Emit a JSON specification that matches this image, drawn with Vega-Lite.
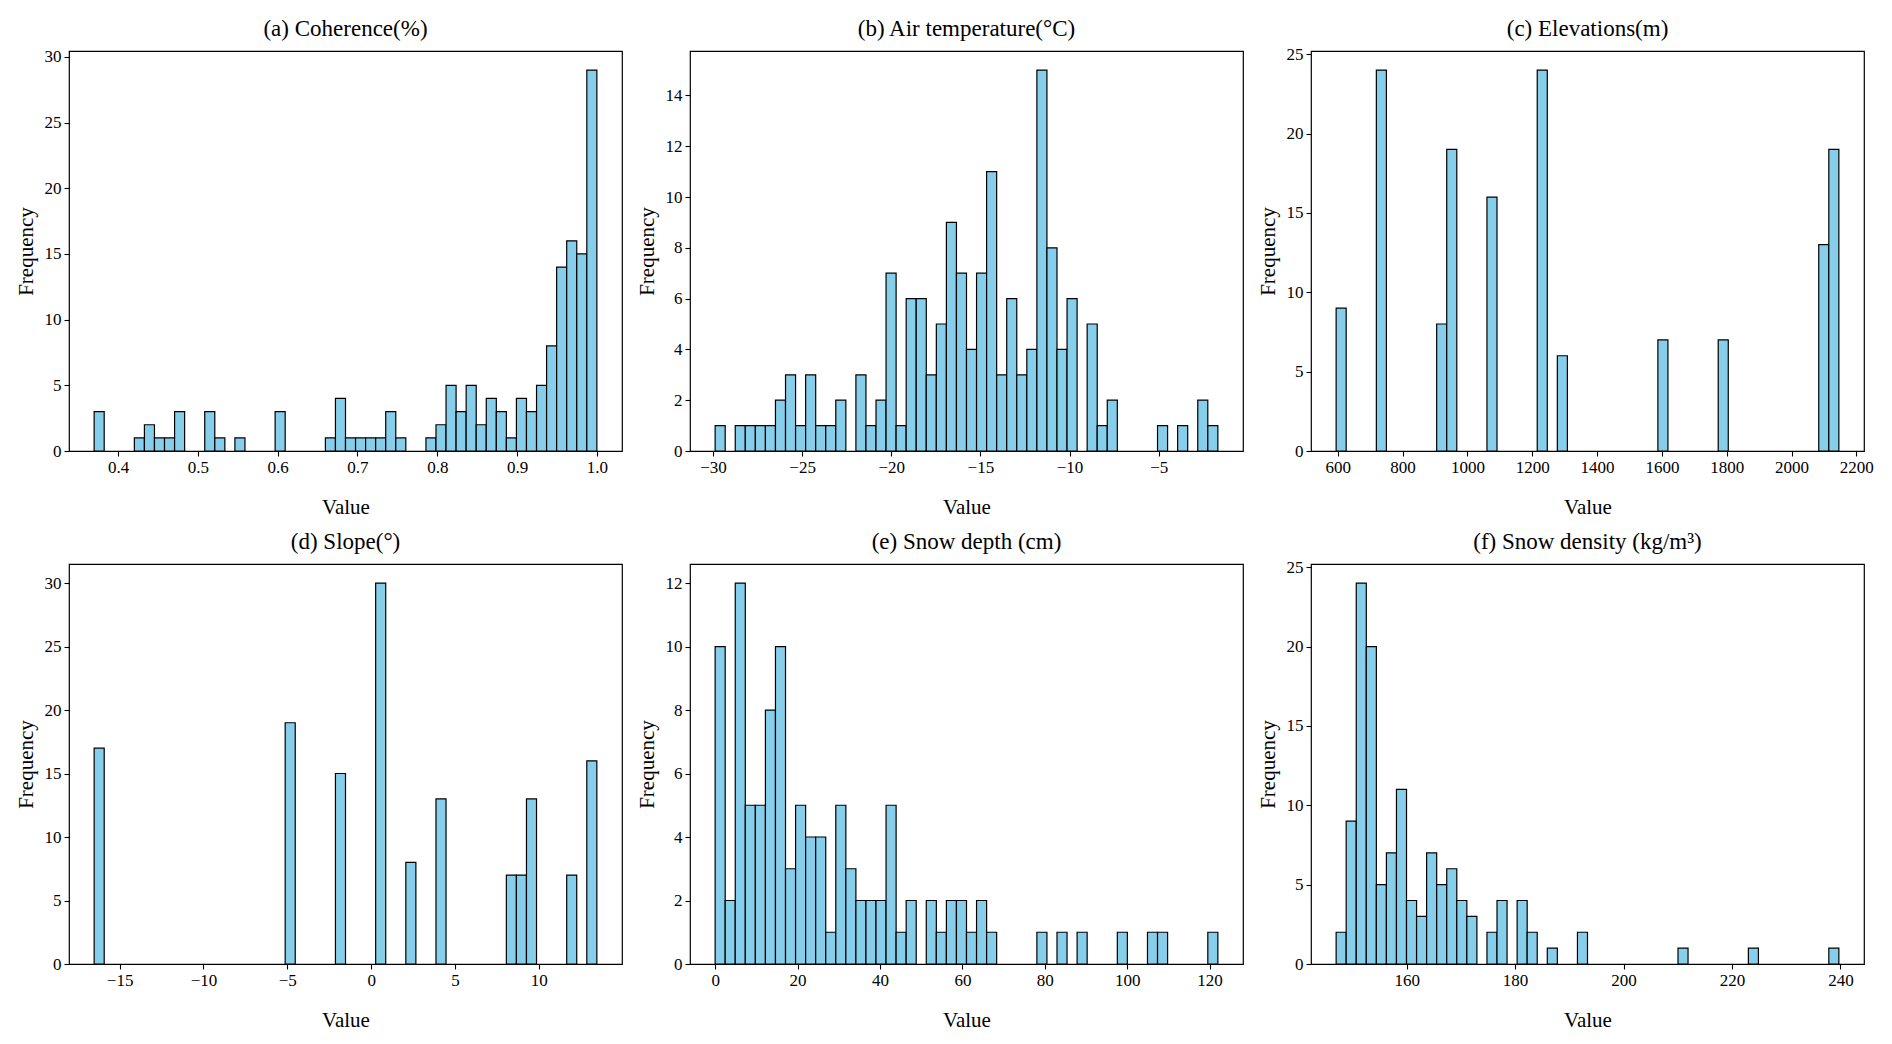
{
  "$schema": "https://vega.github.io/schema/vega-lite/v6.json",
  "background": "white",
  "padding": {"left": 14, "top": 17, "right": 0, "bottom": 0},
  "autosize": {"type": "pad"},
  "config": {
    "font": "Liberation Serif",
    "view": {"stroke": "black", "strokeWidth": 1.2},
    "axis": {
      "labelFont": "Liberation Serif", "labelFontSize": 17, "labelColor": "black",
      "titleFont": "Liberation Serif", "titleFontSize": 21, "titleFontWeight": "normal", "titleColor": "black",
      "grid": false, "domain": false, "tickColor": "black", "tickSize": 5, "tickWidth": 1.1,
      "labelPadding": 3
    },
    "axisX": {"titlePadding": 21, "labelFlush": false},
    "axisY": {"titlePadding": 8, "labelFlush": false},
    "title": {"font": "Liberation Serif", "fontSize": 23, "fontWeight": "normal", "color": "black", "offset": 10, "baseline": "bottom", "anchor": "middle", "frame": "group"}
  },
  "columns": 3,
  "spacing": {"row": 113, "column": 68},
  "bounds": "flush",
  "concat": [
    {
      "title": {"text": "(a) Coherence(%)", "dy": 3},
      "width": 553, "height": 400,
      "data": {"values": [
        {"bin_start": 0.37, "bin_end": 0.3826, "count": 3},
        {"bin_start": 0.4204, "bin_end": 0.433, "count": 1},
        {"bin_start": 0.433, "bin_end": 0.4456, "count": 2},
        {"bin_start": 0.4456, "bin_end": 0.4582, "count": 1},
        {"bin_start": 0.4582, "bin_end": 0.4708, "count": 1},
        {"bin_start": 0.4708, "bin_end": 0.4834, "count": 3},
        {"bin_start": 0.5086, "bin_end": 0.5212, "count": 3},
        {"bin_start": 0.5212, "bin_end": 0.5338, "count": 1},
        {"bin_start": 0.5464, "bin_end": 0.559, "count": 1},
        {"bin_start": 0.5968, "bin_end": 0.6094, "count": 3},
        {"bin_start": 0.6598, "bin_end": 0.6724, "count": 1},
        {"bin_start": 0.6724, "bin_end": 0.685, "count": 4},
        {"bin_start": 0.685, "bin_end": 0.6976, "count": 1},
        {"bin_start": 0.6976, "bin_end": 0.7102, "count": 1},
        {"bin_start": 0.7102, "bin_end": 0.7228, "count": 1},
        {"bin_start": 0.7228, "bin_end": 0.7354, "count": 1},
        {"bin_start": 0.7354, "bin_end": 0.748, "count": 3},
        {"bin_start": 0.748, "bin_end": 0.7606, "count": 1},
        {"bin_start": 0.7858, "bin_end": 0.7984, "count": 1},
        {"bin_start": 0.7984, "bin_end": 0.811, "count": 2},
        {"bin_start": 0.811, "bin_end": 0.8236, "count": 5},
        {"bin_start": 0.8236, "bin_end": 0.8362, "count": 3},
        {"bin_start": 0.8362, "bin_end": 0.8488, "count": 5},
        {"bin_start": 0.8488, "bin_end": 0.8614, "count": 2},
        {"bin_start": 0.8614, "bin_end": 0.874, "count": 4},
        {"bin_start": 0.874, "bin_end": 0.8866, "count": 3},
        {"bin_start": 0.8866, "bin_end": 0.8992, "count": 1},
        {"bin_start": 0.8992, "bin_end": 0.9118, "count": 4},
        {"bin_start": 0.9118, "bin_end": 0.9244, "count": 3},
        {"bin_start": 0.9244, "bin_end": 0.937, "count": 5},
        {"bin_start": 0.937, "bin_end": 0.9496, "count": 8},
        {"bin_start": 0.9496, "bin_end": 0.9622, "count": 14},
        {"bin_start": 0.9622, "bin_end": 0.9748, "count": 16},
        {"bin_start": 0.9748, "bin_end": 0.9874, "count": 15},
        {"bin_start": 0.9874, "bin_end": 1.0, "count": 29}
      ]},
      "mark": {"type": "rect", "fill": "#87CEEB", "stroke": "black", "strokeWidth": 1.2},
      "encoding": {
        "x": {"field": "bin_start", "type": "quantitative", "scale": {"domain": [0.3385, 1.0315], "nice": false, "zero": false},
              "axis": {"title": "Value", "values": [0.4, 0.5, 0.6, 0.7, 0.8, 0.9, 1.0], "format": ".1f"}},
        "x2": {"field": "bin_end"},
        "y": {"field": "count", "type": "quantitative", "scale": {"domain": [0, 30.45], "nice": false},
              "axis": {"title": "Frequency", "values": [0, 5, 10, 15, 20, 25, 30], "format": "d"}},
        "y2": {"datum": 0}
      }
    },
    {
      "title": {"text": "(b) Air temperature(°C)", "dy": 0},
      "width": 553, "height": 400,
      "data": {"values": [
        {"bin_start": -29.88, "bin_end": -29.316, "count": 1},
        {"bin_start": -28.752, "bin_end": -28.188, "count": 1},
        {"bin_start": -28.188, "bin_end": -27.624, "count": 1},
        {"bin_start": -27.624, "bin_end": -27.06, "count": 1},
        {"bin_start": -27.06, "bin_end": -26.496, "count": 1},
        {"bin_start": -26.496, "bin_end": -25.932, "count": 2},
        {"bin_start": -25.932, "bin_end": -25.368, "count": 3},
        {"bin_start": -25.368, "bin_end": -24.804, "count": 1},
        {"bin_start": -24.804, "bin_end": -24.24, "count": 3},
        {"bin_start": -24.24, "bin_end": -23.676, "count": 1},
        {"bin_start": -23.676, "bin_end": -23.112, "count": 1},
        {"bin_start": -23.112, "bin_end": -22.548, "count": 2},
        {"bin_start": -21.984, "bin_end": -21.42, "count": 3},
        {"bin_start": -21.42, "bin_end": -20.856, "count": 1},
        {"bin_start": -20.856, "bin_end": -20.292, "count": 2},
        {"bin_start": -20.292, "bin_end": -19.728, "count": 7},
        {"bin_start": -19.728, "bin_end": -19.164, "count": 1},
        {"bin_start": -19.164, "bin_end": -18.6, "count": 6},
        {"bin_start": -18.6, "bin_end": -18.036, "count": 6},
        {"bin_start": -18.036, "bin_end": -17.472, "count": 3},
        {"bin_start": -17.472, "bin_end": -16.908, "count": 5},
        {"bin_start": -16.908, "bin_end": -16.344, "count": 9},
        {"bin_start": -16.344, "bin_end": -15.78, "count": 7},
        {"bin_start": -15.78, "bin_end": -15.216, "count": 4},
        {"bin_start": -15.216, "bin_end": -14.652, "count": 7},
        {"bin_start": -14.652, "bin_end": -14.088, "count": 11},
        {"bin_start": -14.088, "bin_end": -13.524, "count": 3},
        {"bin_start": -13.524, "bin_end": -12.96, "count": 6},
        {"bin_start": -12.96, "bin_end": -12.396, "count": 3},
        {"bin_start": -12.396, "bin_end": -11.832, "count": 4},
        {"bin_start": -11.832, "bin_end": -11.268, "count": 15},
        {"bin_start": -11.268, "bin_end": -10.704, "count": 8},
        {"bin_start": -10.704, "bin_end": -10.14, "count": 4},
        {"bin_start": -10.14, "bin_end": -9.576, "count": 6},
        {"bin_start": -9.012, "bin_end": -8.448, "count": 5},
        {"bin_start": -8.448, "bin_end": -7.884, "count": 1},
        {"bin_start": -7.884, "bin_end": -7.32, "count": 2},
        {"bin_start": -5.064, "bin_end": -4.5, "count": 1},
        {"bin_start": -3.936, "bin_end": -3.372, "count": 1},
        {"bin_start": -2.808, "bin_end": -2.244, "count": 2},
        {"bin_start": -2.244, "bin_end": -1.68, "count": 1}
      ]},
      "mark": {"type": "rect", "fill": "#87CEEB", "stroke": "black", "strokeWidth": 1.2},
      "encoding": {
        "x": {"field": "bin_start", "type": "quantitative", "scale": {"domain": [-31.29, -0.27], "nice": false, "zero": false},
              "axis": {"title": "Value", "values": [-30, -25, -20, -15, -10, -5], "format": "d"}},
        "x2": {"field": "bin_end"},
        "y": {"field": "count", "type": "quantitative", "scale": {"domain": [0, 15.75], "nice": false},
              "axis": {"title": "Frequency", "values": [0, 2, 4, 6, 8, 10, 12, 14], "format": "d"}},
        "y2": {"datum": 0}
      }
    },
    {
      "title": {"text": "(c) Elevations(m)", "dy": 6},
      "width": 553, "height": 400,
      "data": {"values": [
        {"bin_start": 595, "bin_end": 626.02, "count": 9},
        {"bin_start": 719.08, "bin_end": 750.1, "count": 24},
        {"bin_start": 905.2, "bin_end": 936.22, "count": 8},
        {"bin_start": 936.22, "bin_end": 967.24, "count": 19},
        {"bin_start": 1060.3, "bin_end": 1091.32, "count": 16},
        {"bin_start": 1215.4, "bin_end": 1246.42, "count": 24},
        {"bin_start": 1277.44, "bin_end": 1308.46, "count": 6},
        {"bin_start": 1587.64, "bin_end": 1618.66, "count": 7},
        {"bin_start": 1773.76, "bin_end": 1804.78, "count": 7},
        {"bin_start": 2083.96, "bin_end": 2114.98, "count": 13},
        {"bin_start": 2114.98, "bin_end": 2146, "count": 19}
      ]},
      "mark": {"type": "rect", "fill": "#87CEEB", "stroke": "black", "strokeWidth": 1.2},
      "encoding": {
        "x": {"field": "bin_start", "type": "quantitative", "scale": {"domain": [517.45, 2223.55], "nice": false, "zero": false},
              "axis": {"title": "Value", "values": [600, 800, 1000, 1200, 1400, 1600, 1800, 2000, 2200], "format": "d"}},
        "x2": {"field": "bin_end"},
        "y": {"field": "count", "type": "quantitative", "scale": {"domain": [0, 25.2], "nice": false},
              "axis": {"title": "Frequency", "values": [0, 5, 10, 15, 20, 25], "format": "d"}},
        "y2": {"datum": 0}
      }
    },
    {
      "title": {"text": "(d) Slope(°)", "dy": 0},
      "width": 553, "height": 400,
      "data": {"values": [
        {"bin_start": -16.52, "bin_end": -15.9204, "count": 17},
        {"bin_start": -5.1276, "bin_end": -4.528, "count": 19},
        {"bin_start": -2.1296, "bin_end": -1.53, "count": 15},
        {"bin_start": 0.2688, "bin_end": 0.8684, "count": 30},
        {"bin_start": 2.0676, "bin_end": 2.6672, "count": 8},
        {"bin_start": 3.8664, "bin_end": 4.466, "count": 13},
        {"bin_start": 8.0636, "bin_end": 8.6632, "count": 7},
        {"bin_start": 8.6632, "bin_end": 9.2628, "count": 7},
        {"bin_start": 9.2628, "bin_end": 9.8624, "count": 13},
        {"bin_start": 11.6612, "bin_end": 12.2608, "count": 7},
        {"bin_start": 12.8604, "bin_end": 13.46, "count": 16}
      ]},
      "mark": {"type": "rect", "fill": "#87CEEB", "stroke": "black", "strokeWidth": 1.2},
      "encoding": {
        "x": {"field": "bin_start", "type": "quantitative", "scale": {"domain": [-18.02, 14.96], "nice": false, "zero": false},
              "axis": {"title": "Value", "values": [-15, -10, -5, 0, 5, 10], "format": "d"}},
        "x2": {"field": "bin_end"},
        "y": {"field": "count", "type": "quantitative", "scale": {"domain": [0, 31.5], "nice": false},
              "axis": {"title": "Frequency", "values": [0, 5, 10, 15, 20, 25, 30], "format": "d"}},
        "y2": {"datum": 0}
      }
    },
    {
      "title": {"text": "(e) Snow depth (cm)", "dy": 0},
      "width": 553, "height": 400,
      "data": {"values": [
        {"bin_start": 0, "bin_end": 2.44, "count": 10},
        {"bin_start": 2.44, "bin_end": 4.88, "count": 2},
        {"bin_start": 4.88, "bin_end": 7.32, "count": 12},
        {"bin_start": 7.32, "bin_end": 9.76, "count": 5},
        {"bin_start": 9.76, "bin_end": 12.2, "count": 5},
        {"bin_start": 12.2, "bin_end": 14.64, "count": 8},
        {"bin_start": 14.64, "bin_end": 17.08, "count": 10},
        {"bin_start": 17.08, "bin_end": 19.52, "count": 3},
        {"bin_start": 19.52, "bin_end": 21.96, "count": 5},
        {"bin_start": 21.96, "bin_end": 24.4, "count": 4},
        {"bin_start": 24.4, "bin_end": 26.84, "count": 4},
        {"bin_start": 26.84, "bin_end": 29.28, "count": 1},
        {"bin_start": 29.28, "bin_end": 31.72, "count": 5},
        {"bin_start": 31.72, "bin_end": 34.16, "count": 3},
        {"bin_start": 34.16, "bin_end": 36.6, "count": 2},
        {"bin_start": 36.6, "bin_end": 39.04, "count": 2},
        {"bin_start": 39.04, "bin_end": 41.48, "count": 2},
        {"bin_start": 41.48, "bin_end": 43.92, "count": 5},
        {"bin_start": 43.92, "bin_end": 46.36, "count": 1},
        {"bin_start": 46.36, "bin_end": 48.8, "count": 2},
        {"bin_start": 51.24, "bin_end": 53.68, "count": 2},
        {"bin_start": 53.68, "bin_end": 56.12, "count": 1},
        {"bin_start": 56.12, "bin_end": 58.56, "count": 2},
        {"bin_start": 58.56, "bin_end": 61, "count": 2},
        {"bin_start": 61, "bin_end": 63.44, "count": 1},
        {"bin_start": 63.44, "bin_end": 65.88, "count": 2},
        {"bin_start": 65.88, "bin_end": 68.32, "count": 1},
        {"bin_start": 78.08, "bin_end": 80.52, "count": 1},
        {"bin_start": 82.96, "bin_end": 85.4, "count": 1},
        {"bin_start": 87.84, "bin_end": 90.28, "count": 1},
        {"bin_start": 97.6, "bin_end": 100.04, "count": 1},
        {"bin_start": 104.92, "bin_end": 107.36, "count": 1},
        {"bin_start": 107.36, "bin_end": 109.8, "count": 1},
        {"bin_start": 119.56, "bin_end": 122, "count": 1}
      ]},
      "mark": {"type": "rect", "fill": "#87CEEB", "stroke": "black", "strokeWidth": 1.2},
      "encoding": {
        "x": {"field": "bin_start", "type": "quantitative", "scale": {"domain": [-6.1, 128.1], "nice": false, "zero": false},
              "axis": {"title": "Value", "values": [0, 20, 40, 60, 80, 100, 120], "format": "d"}},
        "x2": {"field": "bin_end"},
        "y": {"field": "count", "type": "quantitative", "scale": {"domain": [0, 12.6], "nice": false},
              "axis": {"title": "Frequency", "values": [0, 2, 4, 6, 8, 10, 12], "format": "d"}},
        "y2": {"datum": 0}
      }
    },
    {
      "title": {"text": "(f) Snow density (kg/m³)", "dy": 6},
      "width": 553, "height": 400,
      "data": {"values": [
        {"bin_start": 147, "bin_end": 148.854, "count": 2},
        {"bin_start": 148.854, "bin_end": 150.708, "count": 9},
        {"bin_start": 150.708, "bin_end": 152.562, "count": 24},
        {"bin_start": 152.562, "bin_end": 154.416, "count": 20},
        {"bin_start": 154.416, "bin_end": 156.27, "count": 5},
        {"bin_start": 156.27, "bin_end": 158.124, "count": 7},
        {"bin_start": 158.124, "bin_end": 159.978, "count": 11},
        {"bin_start": 159.978, "bin_end": 161.832, "count": 4},
        {"bin_start": 161.832, "bin_end": 163.686, "count": 3},
        {"bin_start": 163.686, "bin_end": 165.54, "count": 7},
        {"bin_start": 165.54, "bin_end": 167.394, "count": 5},
        {"bin_start": 167.394, "bin_end": 169.248, "count": 6},
        {"bin_start": 169.248, "bin_end": 171.102, "count": 4},
        {"bin_start": 171.102, "bin_end": 172.956, "count": 3},
        {"bin_start": 174.81, "bin_end": 176.664, "count": 2},
        {"bin_start": 176.664, "bin_end": 178.518, "count": 4},
        {"bin_start": 180.372, "bin_end": 182.226, "count": 4},
        {"bin_start": 182.226, "bin_end": 184.08, "count": 2},
        {"bin_start": 185.934, "bin_end": 187.788, "count": 1},
        {"bin_start": 191.496, "bin_end": 193.35, "count": 2},
        {"bin_start": 210.036, "bin_end": 211.89, "count": 1},
        {"bin_start": 223.014, "bin_end": 224.868, "count": 1},
        {"bin_start": 237.846, "bin_end": 239.7, "count": 1}
      ]},
      "mark": {"type": "rect", "fill": "#87CEEB", "stroke": "black", "strokeWidth": 1.2},
      "encoding": {
        "x": {"field": "bin_start", "type": "quantitative", "scale": {"domain": [142.365, 244.335], "nice": false, "zero": false},
              "axis": {"title": "Value", "values": [160, 180, 200, 220, 240], "format": "d"}},
        "x2": {"field": "bin_end"},
        "y": {"field": "count", "type": "quantitative", "scale": {"domain": [0, 25.2], "nice": false},
              "axis": {"title": "Frequency", "values": [0, 5, 10, 15, 20, 25], "format": "d"}},
        "y2": {"datum": 0}
      }
    }
  ]
}
